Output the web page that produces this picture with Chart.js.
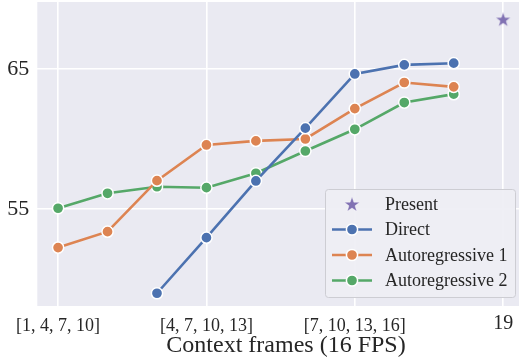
<!DOCTYPE html>
<html><head><meta charset="utf-8">
<script src="https://cdn.jsdelivr.net/npm/chart.js@4"></script>
<style>html,body{margin:0;padding:0;background:#fff}canvas{display:block}</style>
</head><body>
<canvas id="c" width="519" height="360"></canvas>
<script>
// ---- data ----
const frames = [10, 11, 12, 13, 14, 15, 16, 17, 18];
const direct = [null, null, 49.0, 52.97, 57.02, 60.79, 64.66, 65.31, 65.43];
const autoreg1 = [52.26, 53.4, 57.04, 59.59, 59.88, 60.02, 62.19, 64.05, 63.74];
const autoreg2 = [55.07, 56.14, 56.61, 56.54, 57.57, 59.16, 60.71, 62.62, 63.22];
const presentFrame = [19];
const present = [68.57];
const xTickValues = [10, 13, 16, 19];
const xTickLabels = ['[1, 4, 7, 10]', '[4, 7, 10, 13]', '[7, 10, 13, 16]', '19'];
const yTickValues = [55, 65];
const seriesNames = ['Direct', 'Autoregressive 1', 'Autoregressive 2', 'Present'];
const xTitle = 'Context frames (16 FPS)';

const FONT = "'Liberation Serif', 'Times New Roman', Times, serif";
const TEXT = '#262626';
const COLORS = ['#4C72B0', '#DD8452', '#55A868', '#8172B3'];

function toPoints(xs, ys) {
  const out = [];
  xs.forEach((x, i) => { if (ys[i] !== null) out.push({x: x, y: ys[i]}); });
  return out;
}

function drawStar(ctx, cx, cy, R, color) {
  const r = R * 0.40;
  ctx.beginPath();
  for (let i = 0; i < 10; i++) {
    const rad = i % 2 === 0 ? R : r;
    const a = -Math.PI / 2 + i * Math.PI / 5;
    const px = cx + rad * Math.cos(a), py = cy + rad * Math.sin(a);
    if (i === 0) ctx.moveTo(px, py); else ctx.lineTo(px, py);
  }
  ctx.closePath();
  ctx.fillStyle = color;
  ctx.fill();
  ctx.lineWidth = 0.5;
  ctx.strokeStyle = 'rgba(255,255,255,0.8)';
  ctx.stroke();
}
function starCanvas(R, color) {
  const c = document.createElement('canvas');
  c.width = c.height = Math.ceil(R * 2 + 4);
  drawStar(c.getContext('2d'), c.width / 2, c.height / 2 + 0.8, R, color);
  return c;
}
const starImg = starCanvas(8, COLORS[3]);

const bgPlugin = {
  id: 'bg',
  beforeDraw(chart) {
    const {ctx, chartArea: a} = chart;
    ctx.save();
    ctx.fillStyle = '#EAEAF2';
    ctx.fillRect(a.left, a.top, a.right - a.left, a.bottom - a.top);
    ctx.restore();
  }
};

// axis title: the original axes extend past the cropped right edge,
// so its title is centred a little right of the visible plot centre
const xTitlePlugin = {
  id: 'xTitle',
  afterDraw(chart) {
    const ctx = chart.ctx;
    ctx.save();
    ctx.fillStyle = TEXT;
    ctx.font = '24px ' + FONT;
    ctx.textAlign = 'center';
    ctx.textBaseline = 'middle';
    ctx.fillText(xTitle, 286, 346);
    ctx.restore();
  }
};

const legendPlugin = {
  id: 'customLegend',
  afterDraw(chart) {
    const ctx = chart.ctx;
    ctx.save();
    const x0 = 325.5, y0 = 189.5, w = 190, h = 108, rr = 3;
    ctx.beginPath();
    ctx.moveTo(x0 + rr, y0);
    ctx.arcTo(x0 + w, y0, x0 + w, y0 + h, rr);
    ctx.arcTo(x0 + w, y0 + h, x0, y0 + h, rr);
    ctx.arcTo(x0, y0 + h, x0, y0, rr);
    ctx.arcTo(x0, y0, x0 + w, y0, rr);
    ctx.closePath();
    ctx.fillStyle = 'rgba(238,238,244,0.92)';
    ctx.fill();
    ctx.strokeStyle = '#CDCDD3';
    ctx.lineWidth = 1;
    ctx.stroke();
    const order = [3, 0, 1, 2];
    const rows = [204, 229.5, 255, 280.5];
    order.forEach((di, k) => {
      const ds = chart.data.datasets[di];
      const y = rows[k];
      if (di === 3) {
        drawStar(ctx, 352, y + 0.8, 8, ds.backgroundColor);
      } else {
        ctx.beginPath();
        ctx.moveTo(332, y); ctx.lineTo(372, y);
        ctx.strokeStyle = ds.borderColor;
        ctx.lineWidth = 2.6;
        ctx.lineCap = 'butt';
        ctx.stroke();
        ctx.beginPath();
        ctx.arc(352, y, 5.6, 0, Math.PI * 2);
        ctx.fillStyle = ds.backgroundColor;
        ctx.fill();
        ctx.lineWidth = 1.5;
        ctx.strokeStyle = '#ffffff';
        ctx.stroke();
      }
      ctx.fillStyle = TEXT;
      ctx.font = '18px ' + FONT;
      ctx.textBaseline = 'middle';
      ctx.textAlign = 'left';
      ctx.fillText(ds.label, 385, y + 1);
    });
    ctx.restore();
  }
};

function lineDs(label, ys, color) {
  return {
    label: label,
    data: toPoints(frames, ys),
    borderColor: color,
    backgroundColor: color,
    borderWidth: 2.6,
    pointRadius: 5.6,
    pointHoverRadius: 5.6,
    pointBorderColor: '#ffffff',
    pointBorderWidth: 1.5,
    pointBackgroundColor: color,
    tension: 0,
    fill: false
  };
}

new Chart(document.getElementById('c'), {
  type: 'line',
  data: {
    datasets: [
      lineDs(seriesNames[0], direct, COLORS[0]),
      lineDs(seriesNames[1], autoreg1, COLORS[1]),
      lineDs(seriesNames[2], autoreg2, COLORS[2]),
      {
        label: seriesNames[3],
        data: toPoints(presentFrame, present),
        showLine: false,
        borderColor: COLORS[3],
        backgroundColor: COLORS[3],
        pointStyle: starImg,
        pointRadius: 8
      }
    ]
  },
  options: {
    responsive: false,
    animation: false,
    devicePixelRatio: 1,
    layout: {autoPadding: false, padding: {top: 2, right: 0, left: 0, bottom: 0}},
    plugins: {legend: {display: false}, tooltip: {enabled: false}},
    scales: {
      x: {
        type: 'linear',
        min: 9.58,
        max: 19.32,
        afterBuildTicks: s => { s.ticks = xTickValues.map(v => ({value: v})); },
        afterFit: s => { s.height = 54; s.paddingLeft = 0; s.paddingRight = 0; },
        grid: {color: '#ffffff', lineWidth: 1.6, drawTicks: false},
        border: {display: false},
        ticks: {
          padding: 9,
          color: TEXT,
          autoSkip: false,
          maxRotation: 0,
          font: ctx => (ctx.tick && ctx.tick.value === 19)
            ? {family: FONT, size: 20, lineHeight: '17px'}
            : {family: FONT, size: 18},
          callback: v => { const i = xTickValues.indexOf(v); return i >= 0 ? xTickLabels[i] : ''; }
        },
        title: {display: false}
      },
      y: {
        min: 48.09,
        max: 69.8,
        afterBuildTicks: s => { s.ticks = yTickValues.map(v => ({value: v})); },
        afterFit: s => { s.width = 37.3; s.paddingTop = 0; s.paddingBottom = 0; },
        grid: {color: '#ffffff', lineWidth: 1.6, drawTicks: false},
        border: {display: false},
        ticks: {padding: 8, color: TEXT, font: {family: FONT, size: 22}}
      }
    }
  },
  plugins: [bgPlugin, legendPlugin, xTitlePlugin]
});
</script>
</body></html>
